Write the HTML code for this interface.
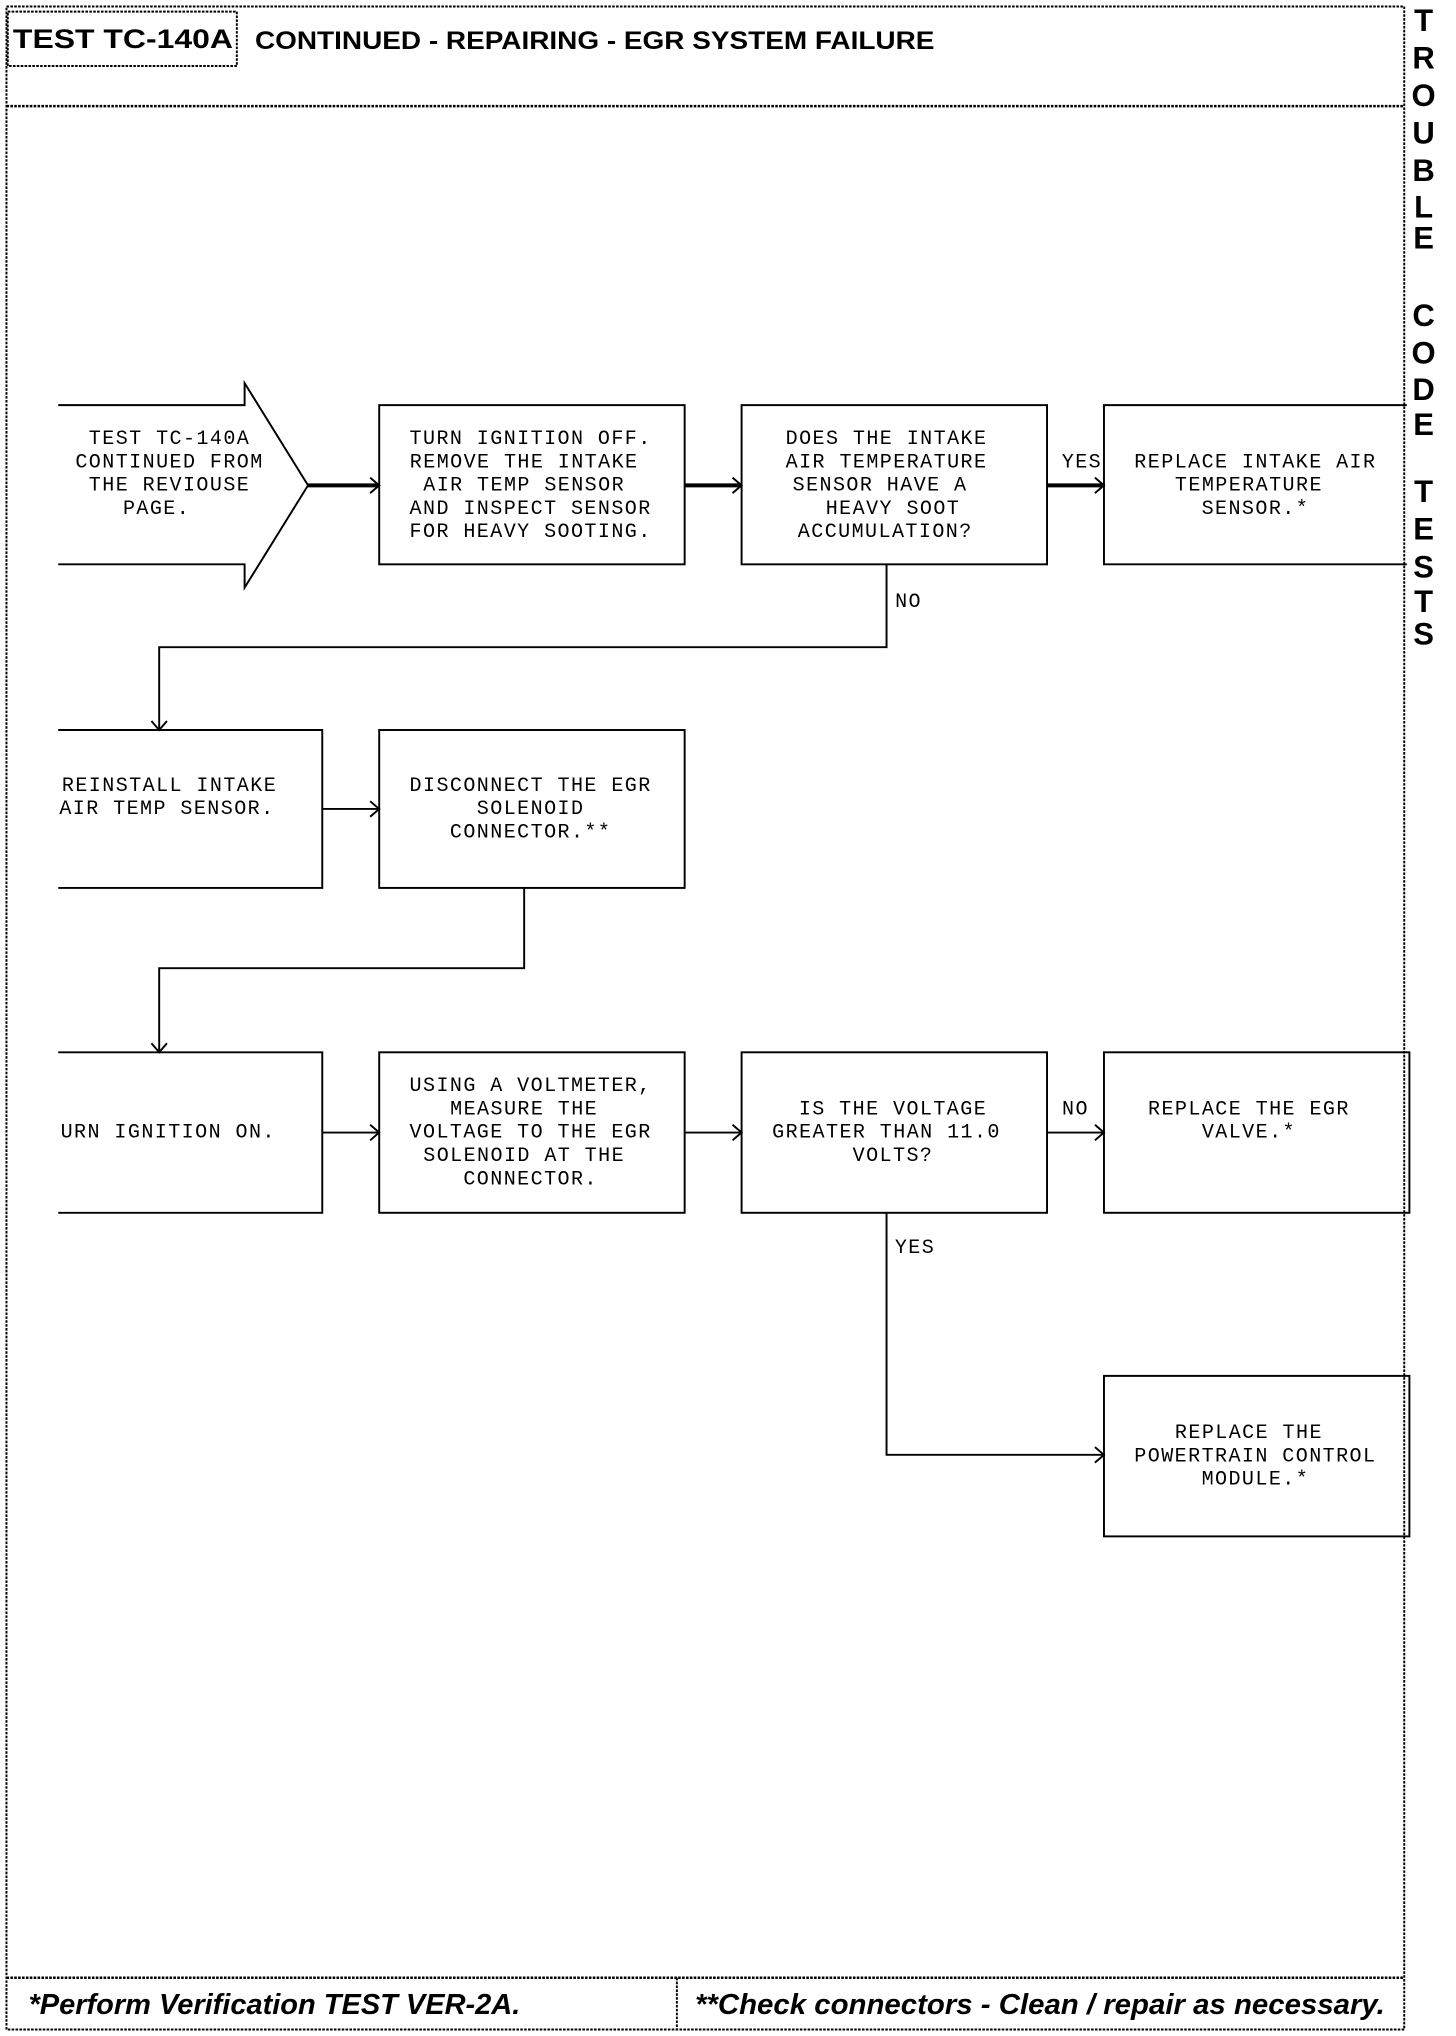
<!DOCTYPE html>
<html><head><meta charset="utf-8"><style>
html,body{margin:0;padding:0;background:#fff}
svg{display:block}
</style></head><body>
<svg width="1456" height="2036" viewBox="0 0 1125 1573" preserveAspectRatio="none" xmlns="http://www.w3.org/2000/svg">
<g fill="none" stroke="#000">
<rect x="5" y="5" width="1080" height="1563" stroke-width="1.5" stroke-dasharray="2 1"/>
<line x1="5" y1="82" x2="1085" y2="82" stroke-width="2" stroke-dasharray="2 1"/>
<rect x="6" y="9" width="177" height="42" stroke-width="1.5" stroke-dasharray="2 1"/>
<line x1="5" y1="1528" x2="1085" y2="1528" stroke-width="2" stroke-dasharray="2 1"/>
<line x1="523" y1="1528" x2="523" y2="1568" stroke-width="1.5" stroke-dasharray="2 1"/>
<polyline points="45,313 189,313 189,296 238,375 189,454 189,436 45,436" stroke-width="1.5"/>
<rect x="293" y="313" width="236" height="123" stroke-width="1.5"/>
<rect x="573" y="313" width="236" height="123" stroke-width="1.5"/>
<polyline points="1087,313 853,313 853,436 1087,436" stroke-width="1.5"/>
<line x1="238" y1="375" x2="293" y2="375" stroke-width="3"/>
<line x1="529" y1="375" x2="573" y2="375" stroke-width="3"/>
<line x1="809" y1="375" x2="853" y2="375" stroke-width="3"/>
<polyline points="685,436 685,500 123,500 123,564" stroke-width="1.5"/>
<polyline points="45,564 249,564 249,686 45,686" stroke-width="1.5"/>
<rect x="293" y="564" width="236" height="122" stroke-width="1.5"/>
<line x1="249" y1="625" x2="293" y2="625" stroke-width="1.5"/>
<polyline points="405,686 405,748 123,748 123,813" stroke-width="1.5"/>
<polyline points="45,813 249,813 249,937 45,937" stroke-width="1.5"/>
<rect x="293" y="813" width="236" height="124" stroke-width="1.5"/>
<rect x="573" y="813" width="236" height="124" stroke-width="1.5"/>
<rect x="853" y="813" width="236" height="124" stroke-width="1.5"/>
<line x1="249" y1="875" x2="293" y2="875" stroke-width="1.5"/>
<line x1="529" y1="875" x2="573" y2="875" stroke-width="1.5"/>
<line x1="809" y1="875" x2="853" y2="875" stroke-width="1.5"/>
<polyline points="685,937 685,1124 853,1124" stroke-width="1.5"/>
<rect x="853" y="1063" width="236" height="124" stroke-width="1.5"/>
<g stroke-width="1.5">
<polyline points="286,369 293,375 286,381"/>
<polyline points="566,369 573,375 566,381"/>
<polyline points="846,369 853,375 846,381"/>
<polyline points="117,557 123,564 129,557"/>
<polyline points="286,619 293,625 286,631"/>
<polyline points="117,806 123,813 129,806"/>
<polyline points="286,869 293,875 286,881"/>
<polyline points="566,869 573,875 566,881"/>
<polyline points="846,869 853,875 846,881"/>
<polyline points="846,1118 853,1124 846,1130"/>
</g>
</g>
<g font-family="'Liberation Sans',sans-serif" font-weight="bold" fill="#000">
<text x="10" y="37" font-size="21" textLength="170" lengthAdjust="spacingAndGlyphs">TEST TC-140A</text>
<text x="197" y="38" font-size="19" textLength="525" lengthAdjust="spacingAndGlyphs">CONTINUED - REPAIRING - EGR SYSTEM FAILURE</text>
<text x="22" y="1556" font-size="22" font-style="italic" textLength="380" lengthAdjust="spacingAndGlyphs">*Perform Verification TEST VER-2A.</text>
<text x="537" y="1556" font-size="22" font-style="italic" textLength="533" lengthAdjust="spacingAndGlyphs">**Check connectors - Clean / repair as necessary.</text>
<g font-size="24" text-anchor="middle">
<text x="1100" y="24">T</text><text x="1100" y="53">R</text><text x="1100" y="82">O</text><text x="1100" y="111">U</text><text x="1100" y="140">B</text><text x="1100" y="168">L</text><text x="1100" y="192">E</text>
<text x="1100" y="252">C</text><text x="1100" y="281">O</text><text x="1100" y="309">D</text><text x="1100" y="336">E</text>
<text x="1100" y="388">T</text><text x="1100" y="417">E</text><text x="1100" y="446">S</text><text x="1100" y="473">T</text><text x="1100" y="498">S</text>
</g>
</g>
<g font-family="'Liberation Mono',monospace" font-size="15.5" letter-spacing="1.1" fill="#000" text-anchor="middle">
<text x="131" y="343">TEST TC-140A</text><text x="131" y="361">CONTINUED FROM</text><text x="131" y="379">THE REVIOUSE</text><text x="121" y="397">PAGE.</text>
<text x="410" y="343">TURN IGNITION OFF.</text><text x="405" y="361">REMOVE THE INTAKE</text><text x="405" y="379">AIR TEMP SENSOR</text><text x="410" y="397">AND INSPECT SENSOR</text><text x="410" y="415">FOR HEAVY SOOTING.</text>
<text x="685" y="343">DOES THE INTAKE</text><text x="685" y="361">AIR TEMPERATURE</text><text x="680" y="379">SENSOR HAVE A</text><text x="690" y="397">HEAVY SOOT</text><text x="684" y="415">ACCUMULATION?</text>
<text x="970" y="361">REPLACE INTAKE AIR</text><text x="965" y="379">TEMPERATURE</text><text x="970" y="397">SENSOR.*</text>
<text x="836" y="361">YES</text>
<text x="702" y="469">NO</text>
<text x="131" y="611">REINSTALL INTAKE</text><text x="129" y="629">AIR TEMP SENSOR.</text>
<text x="410" y="611">DISCONNECT THE EGR</text><text x="410" y="629">SOLENOID</text><text x="410" y="647">CONNECTOR.**</text>
<text x="130" y="879">URN IGNITION ON.</text>
<text x="410" y="843">USING A VOLTMETER,</text><text x="405" y="861">MEASURE THE</text><text x="410" y="879">VOLTAGE TO THE EGR</text><text x="405" y="897">SOLENOID AT THE</text><text x="410" y="915">CONNECTOR.</text>
<text x="690" y="861">IS THE VOLTAGE</text><text x="685" y="879">GREATER THAN 11.0</text><text x="690" y="897">VOLTS?</text>
<text x="831" y="861">NO</text>
<text x="965" y="861">REPLACE THE EGR</text><text x="965" y="879">VALVE.*</text>
<text x="707" y="968">YES</text>
<text x="965" y="1111">REPLACE THE</text><text x="970" y="1129">POWERTRAIN CONTROL</text><text x="970" y="1147">MODULE.*</text>
</g>
</svg>
</body></html>
